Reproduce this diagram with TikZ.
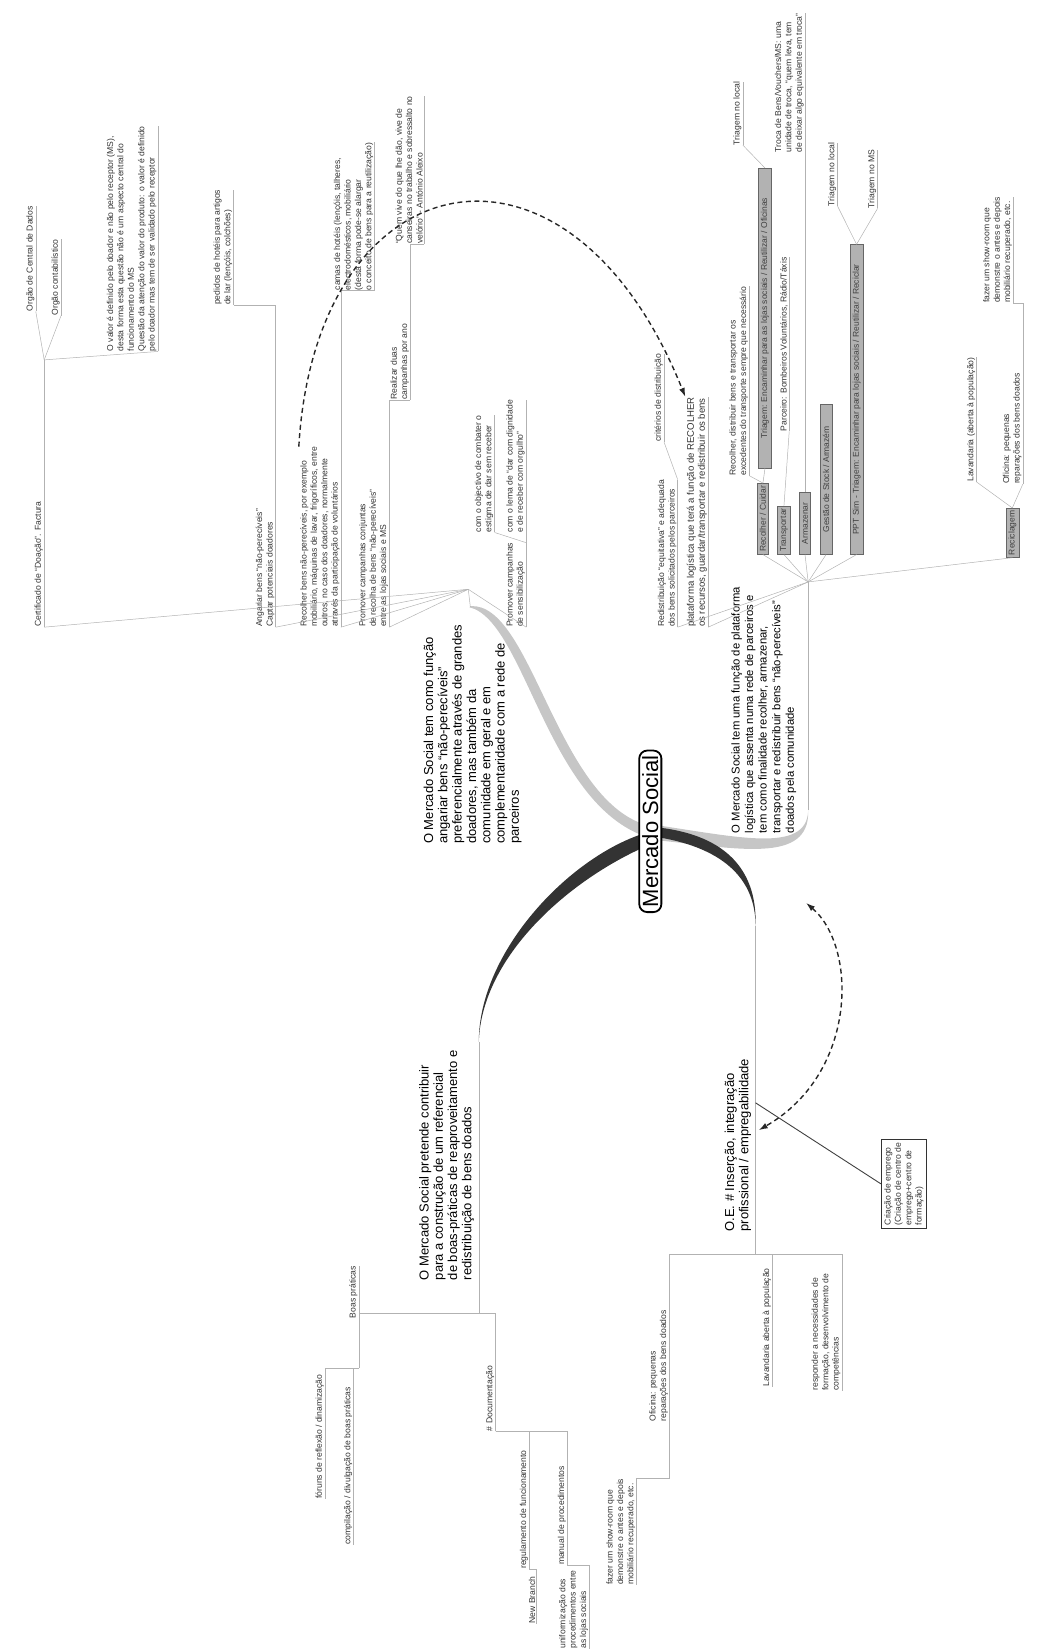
\documentclass[tikz,border=0pt]{standalone}
\usepackage{fontspec}
\setmainfont{Liberation Sans}
\usetikzlibrary{arrows.meta}
\tikzset{>=latex}

\begin{document}
\begin{tikzpicture}[x=1.0528pt,y=-1.0528pt,
  topic/.style={rotate=90,anchor=south west,align=left,inner xsep=0pt,inner ysep=1.2pt,
    text=black!80,font=\fontsize{8.6}{10.4}\selectfont},
  ltopic/.style={topic,anchor=south east},
  main/.style={topic,text=black,font=\fontsize{13}{14.3}\selectfont},
  lmain/.style={main,anchor=south east},
  gbox/.style={rotate=90,anchor=west,fill=gray!60,draw=gray!80!black,inner sep=2.5pt,
    text=black!75,font=\fontsize{8.5}{10}\selectfont},
  wire/.style={draw=gray!60,line width=0.5pt},
  link/.style={draw=black!85,line width=1.4pt,dash pattern=on 5pt off 3.5pt,
    -{Latex[length=9pt,width=6pt]}}
]
\useasboundingbox (0,0) rectangle (985,1568);
\coordinate (c) at (618,790);
\coordinate (p1) at (445,560);
\coordinate (p2) at (768,553);
\coordinate (p3) at (455,1248);
\coordinate (p4) at (718,1192);

% tapered main branches
\fill[gray!45] (447,576) .. controls (505,572) and (528,758) .. (614,784)
  -- (620,797) .. controls (520,770) and (500,590) .. (446,577) -- cycle;
\fill[gray!45] (616,783) .. controls (700,795) and (767,812) .. (768,770)
  .. controls (770,822) and (700,806) .. (620,798) -- cycle;
\fill[black!80] (612,792) .. controls (540,815) and (455,905) .. (455,990)
  .. controls (458,905) and (548,830) .. (624,800) -- cycle;
\fill[black!80] (614,794) .. controls (680,802) and (718,830) .. (718,880)
  .. controls (720,822) and (684,792) .. (622,786) -- cycle;
\draw[wire] (447,577) -- (p1);
\draw[wire] (768,770) -- (p2);
\draw[wire] (455,990) -- (p3);
\draw[wire] (718,880) -- (p4);

\node[rotate=90,draw,line width=1.8pt,rounded corners=8pt,fill=white,inner xsep=5pt,
  inner ysep=3pt,font=\fontsize{22}{24}\selectfont] (ms) at (c) {Mercado Social};

% main topics
\node[main] (b1) at (497,802) {O Mercado Social tem como função\\angariar bens “não-perecíveis”\\preferencialmente através de grandes\\doadores, mas também da\\comunidade em geral e em\\complementaridade com a rede de\\parceiros};
\node[main,font=\fontsize{11.3}{13.6}\selectfont] (b2) at (758,792) {O Mercado Social tem uma função de plataforma\\logística que assenta numa rede de parceiros e\\tem como finalidade recolher, armazenar,\\transportar e redistribuir bens “não-perecíveis”\\doados pela comunidade};
\node[lmain] (b3) at (452,998) {O Mercado Social pretende contribuir\\para a construção de um referencial\\de boas-práticas de reaproveitamento e\\redistribuição de bens doados};
\node[lmain] (b4) at (715,1006) {O.E. \# Inserção, integração\\profissional / empregabilidade};

% angariar
\node[topic] (c1) at (42,596) {Certificado de “Doação”. Factura};
\node[topic] (d1) at (34,296) {Orgão de Central de Dados};
\node[topic] (d2) at (58,300) {Orgão contabilístico};
\node[topic] (d3) at (150,334) {O valor é definido pelo doador e não pelo receptor (MS),\\desta forma esta questão não é um aspecto central do\\funcionamento do MS\\Questão da atenção do valor do produto: o valor é definido\\pelo doador mas tem de ser validado pelo receptor};
\node[topic] (c2) at (262,596) {Angariar bens “não-perecíveis”\\Captar potenciais doadores};
\node[topic] (d4) at (222,290) {pedidos de hotéis para artigos\\de lar (lençóis, colchões)};
\node[topic] (c3) at (324,596) {Recolher bens não-perecíveis, por exemplo\\mobiliário, máquinas de lavar, frigoríficos, entre\\outros, no caso dos doadores, normalmente\\através da participação de voluntários};
\node[topic] (d5) at (356,276) {camas de hotéis (lençóis, talheres,\\electrodomésticos, mobiliário\\(desta forma pode-se alargar\\o conceito de bens para a reutilização)};
\node[topic] (c4) at (370,596) {Promover campanhas conjuntas\\de recolha de bens “não-perecíveis”\\entre as lojas sociais e MS};
\node[topic] (d6) at (390,380) {Realizar duas\\campanhas por ano};
\node[topic] (d7) at (403,232) {“Quem vive do que lhe dão, vive de\\canseiras no trabalho e sobressalto no\\velório” - António Aleixo};
\node[topic] (c5) at (500,596) {Promover campanhas\\de sensibilização};
\node[topic] (d8) at (470,506) {com o objectivo de combater o\\estigma de dar sem receber};
\node[topic] (d9) at (500,506) {com o lema de “dar com dignidade\\e de receber com orgulho”};

% plataforma
\node[topic] (e1) at (644,596) {Redistribuição “equitativa” e adequada\\dos bens solicitados pelos parceiros};
\node[topic] (e1a) at (631,420) {critérios de distribuição};
\node[topic,font=\fontsize{9.6}{11}\selectfont] (e2) at (673,596) {plataforma logística que terá a função de RECOLHER\\os recursos, guardar/transportar e redistribuir os bens};
\node[gbox] (g1) at (725,527) {Recolher / Cuidar};
\node[topic] (e3) at (712,452) {Recolher, distribuir bens e transportar os\\excedentes do transporte sempre que necessário};
\node[gbox,minimum width=300pt] (g1b) at (727,445) {Triagem: Encaminhar para as lojas sociais / Reutilizar / Oficinas};
\node[topic] (e4) at (706,138) {Triagem no local};
\node[gbox] (g2) at (745,527) {Transportar};
\node[topic] (e5) at (750,410) {Parceiro: Bombeiros Voluntários, Rádio/Táxis};
\node[gbox,minimum width=62pt] (g3) at (765,527) {Armazenar};
\node[topic] (e6) at (765,145) {Troca de Bens/Vouchers/MS: uma\\unidade de troca, “quem leva, tem\\de deixar algo equivalente em troca”};
\node[gbox,minimum width=150pt] (g4) at (785,527) {Gestão de Stock / Armazém};
\node[gbox,minimum width=310pt] (g5) at (814,527) {PPT Sim - Triagem: Encaminhar para lojas sociais / Reutilizar / Reciclar};
\node[topic] (e7) at (796,196) {Triagem no local};
\node[topic] (e8) at (834,198) {Triagem no MS};
\node[gbox] (g6) at (962,530) {Reciclagem};
\node[topic] (e9) at (928,458) {Lavandaria (aberta à população)};
\node[topic] (e10) at (972,460) {Oficina: pequenas\\reparações dos bens doados};
\node[topic] (e11) at (963,288) {fazer um show-room que\\demonstre o antes e depois\\mobiliário recuperado, etc.};

% boas praticas
\node[ltopic] (f1) at (341,1203) {Boas práticas};
\node[ltopic] (f1a) at (309,1306) {fóruns de reflexão / dinamização};
\node[ltopic] (f1b) at (336,1318) {compilação / divulgação de boas práticas};
\node[ltopic] (f2) at (471,1298) {\# Documentação};
\node[ltopic] (f2a) at (503,1378) {regulamento de funcionamento};
\node[ltopic] (f2b) at (539,1393) {manual de procedimentos};
\node[ltopic] (f2c) at (510,1498) {New Branch};
\node[ltopic] (f2d) at (560,1492) {uniformização dos\\procedimentos entre\\as lojas sociais};

% insercao
\node[ltopic] (h1) at (636,1245) {Oficina: pequenas\\reparações dos bens doados};
\node[ltopic] (h1a) at (605,1405) {fazer um show-room que\\demonstre o antes e depois\\mobiliário recuperado, etc.};
\node[ltopic] (h2) at (734,1205) {Lavandaria aberta à população};
\node[ltopic] (h3) at (800,1210) {responder a necessidades de\\formação, desenvolvimento de\\competências};
\node[rotate=90,draw=black!80,line width=0.8pt,align=left,inner sep=3pt,text=black!80,
  font=\fontsize{8.6}{10.4}\selectfont] (emp) at (859,1125) {Criação de emprego\\(Criação de centro de\\emprego+centro de\\formação)};

% underlines
\foreach \n in {c1,d1,d2,d3,c2,d4,c3,d5,c4,d6,d7,c5,d8,d9,e1,e1a,e2,e3,e4,e5,e6,e7,e8,e9,e10,e11,
  f1,f1a,f1b,f2,f2a,f2b,f2c,f2d,h1,h1a,h2,h3}
  \draw[wire] (\n.south west) -- (\n.south east);

% connectors
\draw[wire] (c1.south east) -- (42,342) coordinate (c1e);
\foreach \n in {c1,c2,c3,c4,c5} \draw[wire] (p1) -- (\n.south west);
\foreach \n in {d1,d2,d3} \draw[wire] (c1e) -- (\n.south west);
\draw[wire] (c2.south east) |- (d4.south west);
\draw[wire] (c3.south east) |- (d5.south west);
\draw[wire] (c4.south east) |- (d6.south west);
\draw[wire] (d6.south east) |- (d7.south west);
\draw[wire] (c5.south east) -- (d8.south west);
\draw[wire] (c5.south east) -- (d9.south west);

\foreach \n in {e1,e2} \draw[wire] (p2) -- (\n.south west);
\foreach \n in {g1,g2,g3,g4,g5,g6} \draw[wire] (p2) -- (\n.west);
\draw[wire] (e1.south east) -- (e1a.south west);
\draw[wire] (g1.east) -- (e3.south west);
\draw[wire] (g1.east) -- (g1b.west);
\draw[wire] (g1b.east) -- (e4.south west);
\draw[wire] (g2.east) -- (e5.south west);
\draw[wire] (g3.east) -- (e6.south west);
\draw[wire] (g5.east) -- (e7.south west);
\draw[wire] (g5.east) -- (e8.south west);
\draw[wire] (g6.east) -- (e9.south west);
\draw[wire] (g6.east) -- (e10.south west);
\draw[wire] (e10.south east) |- (e11.south west);

\draw[wire] (p3) -- (p3 -| f1.south east);
\draw[wire] (f1.south west) -- (341,1300) coordinate (f1e);
\draw[wire] (p3) -| (f2.south east);
\foreach \n in {f1a,f1b} \draw[wire] (f1e) -| (\n.south east);
\foreach \n in {f2a,f2b} \draw[wire] (f2.south west) -| (\n.south east);
\draw[wire] (f2a.south west) -| (f2c.south east);
\draw[wire] (f2b.south west) -| (f2d.south east);

\foreach \n in {h1,h2,h3} \draw[wire] (p4) -| (\n.south east);
\draw[wire] (h1.south west) |- (h1a.south east);
\draw[black!75,line width=0.9pt] (718,1048) -- (emp.north);

% dashed relations
\draw[link] (c3.north east) .. controls (300,150) and (540,100) .. (e2.north east);
\draw[link,{Latex[length=9pt,width=6pt]}-{Latex[length=9pt,width=6pt]}]
  (766,858) .. controls (815,900) and (815,1020) .. (721,1074);
\end{tikzpicture}
\end{document}
